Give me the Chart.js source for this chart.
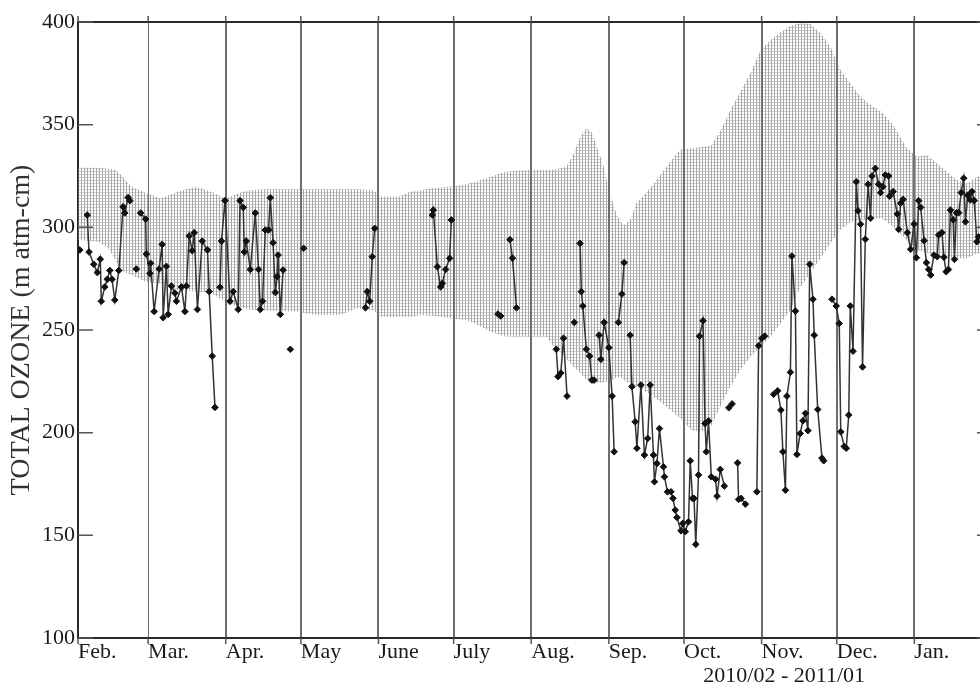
<!DOCTYPE html>
<html>
<head>
<meta charset="utf-8">
<title>Total ozone 2010/02 - 2011/01</title>
<script src="https://cdn.jsdelivr.net/npm/chart.js@4.4.1/dist/chart.umd.min.js"></script>
<style>
    html, body { margin: 0; padding: 0; background: #fff; overflow: hidden; }
    #wrap { width: 1000px; height: 685px; }
</style>
</head>
<body>
<div id="wrap"><canvas id="ozoneChart" width="1000" height="685"></canvas></div>
<script>
// x = days since 1 Feb 2010
const monthStarts = [0, 28, 59, 89, 120, 150, 181, 212, 242, 273, 303, 334];
const monthLabels = ['Feb.', 'Mar.', 'Apr.', 'May', 'June', 'July', 'Aug.', 'Sep.', 'Oct.', 'Nov.', 'Dec.', 'Jan.'];
const yTicks = [100, 150, 200, 250, 300, 350, 400];
const periodLabel = '2010/02 - 2011/01';

// climatological range (hatched band)
const bandDays = [0, 8, 12, 15, 18, 21, 27, 33, 40, 47, 53, 59, 64, 68, 75, 87, 95, 105, 111, 118,
    121, 128, 133, 137, 141, 145, 150, 155, 158, 161, 165, 170, 175, 181, 187, 190, 195, 198, 200.5, 203,
    205, 207, 210, 212, 214.5, 216.5, 218, 220.5, 223, 226, 230, 235, 239, 241, 245, 248.5, 253, 257, 260.5, 264.5,
    268.5, 272.5, 276.5, 280.5, 284.5, 288.5, 292.5, 296.5, 300.5, 304.5, 308.5, 312.5, 316.5, 321, 325.5, 331, 335, 339, 343, 347,
    351, 355, 359, 365];
const bandUpper = [329, 329, 328.5, 328, 324.6, 320, 316.8, 314, 317.4, 319.8, 317.4, 314, 316.6, 318, 318.5, 318.5, 318.5, 318.5, 318.5, 318,
    315, 315, 317.4, 318, 319, 319.5, 320, 321, 322, 323, 324.6, 327, 327.5, 328, 328, 328, 329.5, 336, 344, 348.2,
    346.6, 340, 329.5, 318, 308.4, 303, 301, 303.6, 311.7, 315.5, 321.5, 329.5, 336, 338, 338.5, 339, 340, 348, 357, 366,
    375, 386, 391, 395, 398, 399.5, 399, 394.5, 388, 376.6, 370, 363.6, 359.6, 356, 350, 338.5, 334.4, 335.2, 331.2, 327,
    323, 321.4, 324.6, 325];
const bandLower = [294, 293, 290, 284, 278.5, 277, 273.5, 272.7, 269.5, 268.7, 268, 263.8, 261.3, 260, 259.5, 259, 257.3, 257.3, 260.5, 259.7,
    256.4, 256.4, 256.4, 257.3, 257, 256.4, 255.5, 254.8, 253.5, 251.6, 249, 247, 246.7, 246.7, 246.7, 241.9, 236, 232, 229, 225.8,
    225, 224.3, 224.5, 225.3, 226.5, 227.2, 225.5, 224, 222.5, 220.7, 217.4, 212.7, 208.5, 206.5, 201.2, 200.5, 203.5, 213.8, 222.4, 230.5,
    237, 241.9, 246.7, 253.2, 259.7, 271, 277.6, 285, 292.2, 299, 302.5, 303.5, 304, 304.4, 300.3, 293.8, 289, 287.6, 286.8, 285.7,
    285, 285, 287.3, 288];

// daily observations, null = no data (breaks the line)
const obsDays = [0.7, 2, 3.7, 4.4, 6.3, 7.7, 8.9, 9.3, 10.7, 11.7, 12.7, 13.6, 14.7, 16.3, 18, 18.7, 20, 20.7, 22, 23.3, 24,
    25, 27, 27.3, 28.7, 29, 30.4, 32.4, 33.6, 34, 35.3, 36, 37.3, 38.7, 39.3, 41.3, 42.7, 43.3, 44.4, 45.6, 46.4, 47.7,
    49.6, 51.7, 52.4, 53.6, 54.7, 55.7,
    56.7, 57.3, 58.7, 60.7, 62, 64, 64.7, 66, 66.4, 67.2, 68.8, 70.8, 72.1, 72.8, 73.7, 74.8, 76.1, 76.8, 77.9, 78.8,
    79.5, 79.9, 80.8, 81.9, 83, 84.8, 87, 90.1, 100,
    114.8, 115.5, 116.5, 117.5, 118.5, 130,
    141.5, 141.9, 143.5, 144.8, 145.5, 146.8, 148.4, 149.1, 158,
    167.7, 168.8, 170.5, 172.5, 173.5, 175.1, 183,
    191, 191.7, 192.8, 193.9, 195.3, 197, 198.2, 199.5,
    200.5, 201, 201.6, 203, 204.3, 205.2, 206.1, 207,
    208.1, 208.8, 210.1, 212, 213.3, 214.1, 215, 215.8, 217.2, 218.1, 219.5,
    220.5, 221.2, 222.5, 223.2, 224.8, 226.2, 227.5, 228.5, 229.8, 230.2, 231.2, 232.2, 233.8, 234.2, 235.4, 236.8,
    237.6, 238.5, 239.2, 240.8, 241.5, 242.5, 243.8, 244.5, 245.4, 246, 246.7, 247.8, 248.2, 249.6, 250.4, 250.9,
    251.8, 252.9, 254.6, 255.2, 256.5, 258.1, 259,
    259.9, 261.2, 262.5, 263.4, 263.8, 264.8, 266.5, 268, 271.1, 271.8, 273.1, 274.2, 276,
    277.8, 279.4, 280.7, 281.5, 282.5, 283.1, 284.5, 285.1, 286.5, 287.1, 288.4, 289.5, 290.5, 291.5, 292.2, 293.5,
    294, 295.4, 297.1, 297.8, 299,
    301.1, 302.8, 304, 304.6, 306, 306.8, 307.8, 308.4, 309.5, 310.8, 311.5, 312.5, 313.3, 314.4, 315.5, 316.5,
    317.1, 318.4, 319.7, 320.5, 321.4, 322.4, 323.7, 324.1, 325.5, 327.2, 327.7, 328.5, 329.5, 331.2, 332.5, 333.9,
    334.8, 335.7, 336.5, 337.9, 338.8, 339.7, 340.5, 341.8, 343.1, 343.7, 345, 345.8, 346.7, 347.6, 348.4, 349.5,
    350, 350.8, 351.7, 352.7, 353.7, 354.4, 355.3, 356.3, 357, 357.9, 359, 359.6];
const obsVals = [289, null, 306, 288, 282, 278, 284.5, 264, 271, 274.7, 279, 274.7, 264.6, 279, 310, 307, 314.5, 313, null, 279.7, null,
    307, 304, 287, 277.6, 282.5, 259, 279.7, 291.7, 256, 281, 257.6, 271.4, 268, 264, 271, 259, 271.4, 295.8, 288.6, 297.4, 260,
    293.3, 289, 268.7, 237.3, 212.3, null,
    270.8, 293.3, 313, 264, 268.7, 260, 313, 309.7, 288, 293.3, 279.5, 307, 279.5, 260, 264, 298.7, 298.7, 314.4, 292.5, 268.3,
    276, 286.5, 257.6, 279.2, null, 240.6, null, 289.8, null,
    260.8, 268.7, 264, 285.7, 299.5, null,
    306, 308.4, 280.8, 271, 272.7, 279.5, 284.9, 303.6, null,
    257.8, 256.8, null, 294, 285, 260.8, null,
    240.6, 227.3, 229, 246, 217.8, null, 253.7, null,
    292.2, 268.7, 261.7, 240.6, 237.3, 225.6, 225.6, null,
    247.5, 235.7, 253.7, 241.4, 217.8, 190.7, null, 253.7, 267.5, 282.8, null,
    247.5, 222.4, 205.3, 192.4, 223.2, 189.1, 197.2, 223.2, 189.1, 176.1, 185, 202, 183.4, 178.5, 171.2, 171.2,
    168, 162.3, 158.7, 152.2, 155.8, 151.8, 156.6, 186.3, 168, 168, 145.6, 179.4, 247, 254.5, 204.5, 190.7,
    205.7, 178.5, 177.3, 169.1, 182.1, 174, null,
    212.1, 214, null, 185.3, 167.5, 168, 165.2, null, 171.2, 242.3, 246, 247, null,
    218.7, 220.4, 211, 190.7, 172, 217.8, 229.4, 286, 259.2, 189.4, 199.6, 205.8, 209.4, 201, 282, 265,
    247.5, 211.3, 187.6, 186.3, null,
    265, 261.7, 253.2, 200.4, 193.3, 192.4, 208.6, 261.7, 239.7, 322.2, 308, 301.5, 232, 294.2, 321, 304.4,
    325, 328.7, 321, 316.9, 319.8, 325.5, 325, 315.2, 317.4, 306.5, 299, 311.7, 313.6, 297.4, 289.3, 301.6,
    285.2, 313, 309.7, 293.5, 282.8, 279.5, 276.8, 286.5, 285.7, 296.3, 297.4, 285.4, 278.4, 279.5, 308.4, 303.6,
    284.4, 307.1, 307.1, 316.9, 323.9, 302.7, 315.7, 313.3, 317.4, 313, 293, 295.4];

const SERIF = '"Liberation Serif", "Times New Roman", serif';
const canvas = document.getElementById('ozoneChart');
const ctx = canvas.getContext('2d');

// dotted hatch like the original print
function makeHatch() {
    const tile = document.createElement('canvas');
    tile.width = 3;
    tile.height = 3;
    const g = tile.getContext('2d');
    g.fillStyle = 'rgba(110,110,110,0.6)';
    g.fillRect(0, 0, 1, 3);
    g.fillStyle = 'rgba(130,130,130,0.4)';
    g.fillRect(1, 0, 2, 1);
    return ctx.createPattern(tile, 'repeat');
}

const toXY = (days, vals) => days.map((d, i) => ({ x: d, y: vals[i] }));

// frame, inward ticks and the period text
const decor = {
    id: 'decor',
    afterDraw(chart) {
        const { ctx: c, chartArea: a, scales: { x, y } } = chart;
        c.save();
        c.strokeStyle = '#2a2a2a';
        c.lineWidth = 2;
        c.beginPath();
        c.moveTo(a.left, a.top);
        c.lineTo(a.right, a.top);
        c.lineTo(a.right, a.bottom);
        c.stroke();

        c.lineWidth = 1.5;
        c.strokeStyle = '#555';
        c.beginPath();
        yTicks.forEach(v => {
            const p = y.getPixelForValue(v);
            c.moveTo(a.left, p); c.lineTo(a.left + 15, p);
            c.moveTo(a.right - 15, p); c.lineTo(a.right, p);
        });
        monthStarts.forEach(d => {
            const p = x.getPixelForValue(d);
            c.moveTo(p, a.top - 6); c.lineTo(p, a.top);
            c.moveTo(p, a.bottom); c.lineTo(p, a.bottom + 6);
        });
        c.stroke();

        c.font = '22px ' + SERIF;
        c.fillStyle = '#1a1a1a';
        c.textAlign = 'center';
        c.textBaseline = 'alphabetic';
        c.fillText(periodLabel, x.getPixelForValue(282), 682);
        c.restore();
    }
};

new Chart(ctx, {
    type: 'line',
    data: {
        datasets: [
            {
                label: 'Total ozone',
                data: toXY(obsDays, obsVals),
                borderColor: '#333',
                borderWidth: 1.5,
                pointStyle: 'rectRot',
                pointRadius: 3.3,
                pointBackgroundColor: '#111',
                pointBorderColor: '#111',
                pointBorderWidth: 1,
                spanGaps: false,
                fill: false,
                tension: 0
            },
            {
                label: 'Range max',
                data: toXY(bandDays, bandUpper),
                borderWidth: 0,
                borderColor: 'rgba(0,0,0,0)',
                pointRadius: 0,
                backgroundColor: makeHatch(),
                fill: '+1',
                tension: 0
            },
            {
                label: 'Range min',
                data: toXY(bandDays, bandLower),
                borderWidth: 0,
                borderColor: 'rgba(0,0,0,0)',
                pointRadius: 0,
                fill: false,
                tension: 0
            }
        ]
    },
    options: {
        responsive: false,
        maintainAspectRatio: false,
        animation: false,
        layout: { padding: { left: 0, top: 22, right: 8, bottom: 0 } },
        plugins: {
            legend: { display: false },
            tooltip: { enabled: false }
        },
        scales: {
            x: {
                type: 'linear',
                min: 0,
                max: 365,
                afterBuildTicks: s => { s.ticks = monthStarts.map(v => ({ value: v })); },
                afterFit: s => { s.height = 47; },
                ticks: {
                    autoSkip: false,
                    maxRotation: 0,
                    align: 'start',
                    padding: 1,
                    color: '#1a1a1a',
                    font: { family: SERIF, size: 22 },
                    callback: (v, i) => monthLabels[i]
                },
                grid: {
                    drawTicks: false,
                    color: '#6e6e6e',
                    lineWidth: c => (c.index === 1 ? 1 : 2)
                },
                border: { display: true, color: '#2a2a2a', width: 2 }
            },
            y: {
                min: 100,
                max: 400,
                afterBuildTicks: s => { s.ticks = yTicks.map(v => ({ value: v })); },
                afterFit: s => { s.width = 78; },
                ticks: {
                    padding: 3,
                    color: '#1a1a1a',
                    font: { family: SERIF, size: 22 }
                },
                grid: { drawOnChartArea: false, drawTicks: false },
                border: { display: true, color: '#2a2a2a', width: 2 },
                title: {
                    display: true,
                    text: 'TOTAL OZONE (m atm-cm)',
                    color: '#333',
                    font: { family: SERIF, size: 28 },
                    padding: { top: 5, bottom: 0 }
                }
            }
        }
    },
    plugins: [decor]
});
</script>
</body>
</html>
